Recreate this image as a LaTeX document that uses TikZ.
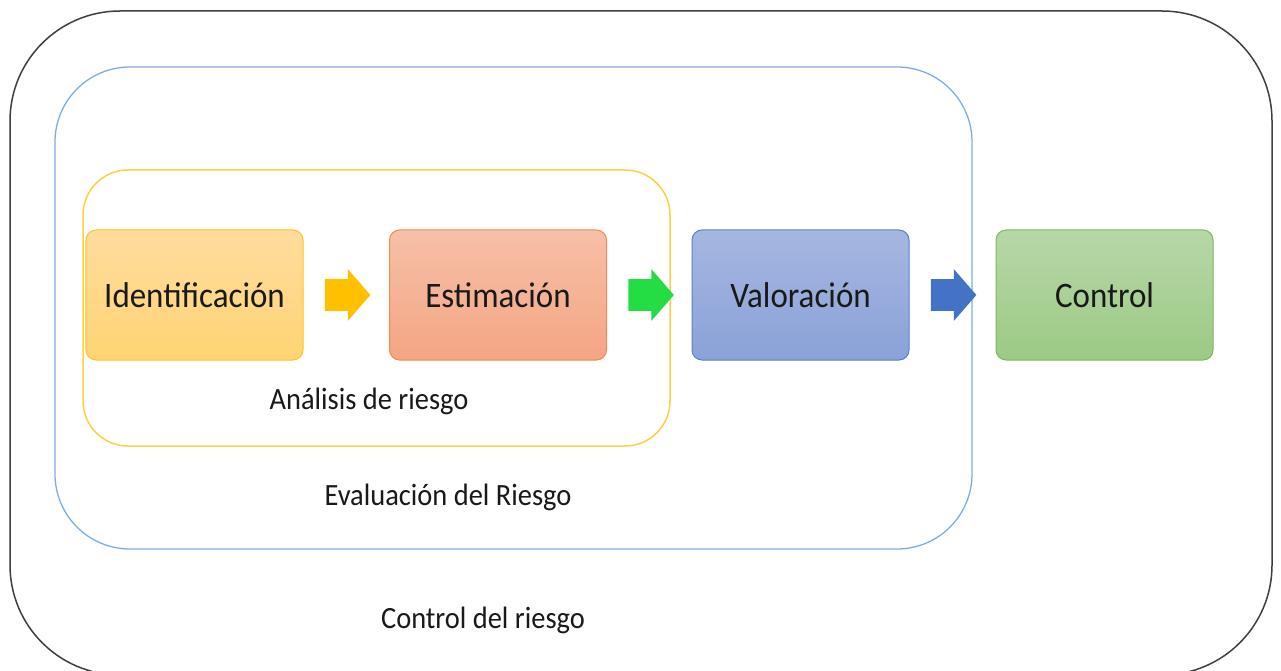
\documentclass[tikz,border=0pt]{standalone}
\usepackage{fontspec}
\setmainfont{Carlito}[FakeStretch=0.92]
\usetikzlibrary{positioning,shapes.arrows}

\definecolor{outerline}{HTML}{3F3F3F}
\definecolor{evalline}{HTML}{7BAEE0}
\definecolor{anaframe}{HTML}{FFD042}
\definecolor{identtop}{HTML}{FFDC9E}
\definecolor{identbot}{HTML}{FFD473}
\definecolor{identline}{HTML}{FFC61A}
\definecolor{estimtop}{HTML}{F6C0A8}
\definecolor{estimbot}{HTML}{F4A584}
\definecolor{estimline}{HTML}{EF8A50}
\definecolor{valortop}{HTML}{A6B6E1}
\definecolor{valorbot}{HTML}{8AA2D8}
\definecolor{valorline}{HTML}{5B80CC}
\definecolor{contrtop}{HTML}{B7D7A9}
\definecolor{contrbot}{HTML}{9CCA84}
\definecolor{contrline}{HTML}{7FB75A}
\definecolor{arrowyellow}{HTML}{FFC000}
\definecolor{arrowgreen}{HTML}{24DD45}
\definecolor{arrowblue}{HTML}{4472C4}

\tikzset{
  stagebox/.style={draw, rounded corners=2mm, minimum width=43.4mm, minimum height=26mm,
    line width=0.2mm, text=black!90, font=\fontsize{20.4}{24}\selectfont},
  blockarrow/.style={single arrow, draw=none, inner sep=3.1mm, minimum height=9mm,
    single arrow head extend=2mm, single arrow tip angle=98},
  framelabel/.style={text=black!90, font=\fontsize{17.6}{21}\selectfont}
}

\begin{document}
\begin{tikzpicture}[x=0.2mm,y=-0.2mm]
\useasboundingbox (0,0) rectangle (1281,671);

%Frames
\draw [line width=0.3mm, draw=outerline, rounded corners=22mm] (10,11) rectangle (1272,675);
\draw [line width=0.26mm, draw=evalline, rounded corners=15mm] (55,67) rectangle (972,549);
\draw [line width=0.3mm, draw=anaframe, rounded corners=9mm] (83,170) rectangle (670,446);

%Frame names
\node [framelabel] (analisis) at (369,401) {Análisis de riesgo};
\node [framelabel] (evaluacion) at (448,497) {Evaluación del Riesgo};
\node [framelabel] (controlr) at (483,620) {Control del riesgo};

%Stages
\node [stagebox, draw=identline, top color=identtop, bottom color=identbot] (ident) at (194.5,295) {Identificación};
\node [stagebox, draw=estimline, top color=estimtop, bottom color=estimbot, right=17.1mm of ident] (estim) {Estimación};
\node [stagebox, draw=valorline, top color=valortop, bottom color=valorbot, right=16.9mm of estim] (valor) {Valoración};
\node [stagebox, draw=contrline, top color=contrtop, bottom color=contrbot, right=17.2mm of valor] (contr) {Control};

%Arrows
\node [blockarrow, fill=arrowyellow, right=4.2mm of ident] (arrowa) {};
\node [blockarrow, fill=arrowgreen, right=4.2mm of estim] (arrowb) {};
\node [blockarrow, fill=arrowblue, right=4.2mm of valor] (arrowc) {};

\end{tikzpicture}
\end{document}
